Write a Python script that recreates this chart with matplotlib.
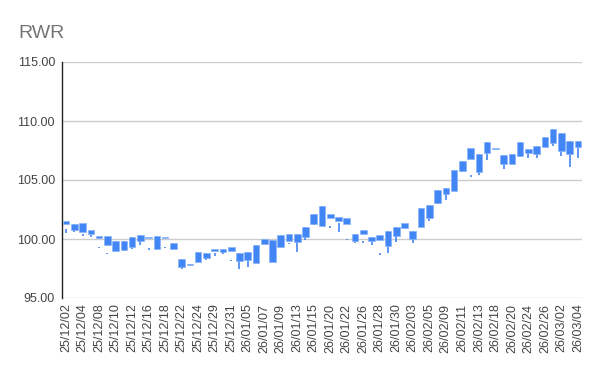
import matplotlib
matplotlib.use("Agg")
import matplotlib.pyplot as plt
import numpy as np

dates = ["25/12/02","25/12/03","25/12/04","25/12/05","25/12/08","25/12/09","25/12/10","25/12/11",
         "25/12/12","25/12/15","25/12/16","25/12/17","25/12/18","25/12/19","25/12/22","25/12/23",
         "25/12/24","25/12/26","25/12/29","25/12/30","25/12/31",
         "26/01/02","26/01/05","26/01/06","26/01/07","26/01/08","26/01/09","26/01/12","26/01/13",
         "26/01/14","26/01/15","26/01/16","26/01/20","26/01/21","26/01/22","26/01/23","26/01/26",
         "26/01/27","26/01/28","26/01/29","26/01/30",
         "26/02/02","26/02/03","26/02/04","26/02/05","26/02/06","26/02/09","26/02/10","26/02/11",
         "26/02/12","26/02/13","26/02/17","26/02/18","26/02/19","26/02/20","26/02/23","26/02/24",
         "26/02/25","26/02/26","26/02/27",
         "26/03/02","26/03/03","26/03/04"]

open_ = [101.55,101.27,101.36,100.79,100.23,100.28,99.83,99.83,100.17,100.31,100.20,100.25,100.20,99.66,
         98.33,97.86,98.87,98.79,99.15,99.15,99.30,98.81,98.87,99.49,99.97,99.89,100.34,100.40,100.40,
         101.02,102.12,102.82,102.09,101.86,101.75,100.40,100.76,100.17,100.31,100.68,100.99,101.33,
         100.71,102.60,102.88,104.15,104.30,105.85,106.64,107.69,107.23,108.19,107.74,107.14,107.23,
         108.22,107.65,107.88,108.67,109.32,108.98,108.33,108.30]
close = [101.30,100.76,100.62,100.45,100.08,99.49,98.98,99.04,99.35,99.83,100.05,99.18,100.05,99.18,
         97.60,97.76,98.03,98.42,99.00,98.87,98.98,98.14,98.19,97.94,99.55,98.03,99.32,99.83,99.72,
         100.14,101.27,101.13,101.75,101.53,101.27,99.83,100.42,99.83,99.92,99.43,100.23,100.96,
         100.00,100.99,101.81,103.05,103.79,104.07,105.76,106.78,105.70,107.29,107.63,106.36,106.36,
         107.06,107.31,107.23,107.80,108.16,107.48,107.20,107.82]
low = [100.50,100.57,100.28,100.20,99.22,98.76,98.98,98.95,99.13,99.49,99.10,99.18,99.24,99.18,
       97.46,97.76,98.03,98.19,98.53,98.70,98.17,97.46,97.65,97.94,98.53,98.03,99.32,99.57,98.93,
       99.89,101.19,101.13,100.90,100.57,99.94,99.63,99.70,99.49,98.62,98.79,99.72,99.97,
       99.63,100.99,101.53,102.94,103.28,104.07,105.70,105.25,105.42,106.72,106.40,105.93,106.36,
       106.95,106.84,106.89,107.80,107.88,107.06,106.08,106.89]
high = [100.85,101.27,100.45,100.31,99.30,98.82,99.83,99.83,100.17,100.31,99.20,100.25,99.30,99.66,
        98.33,97.86,98.87,98.79,98.79,99.15,98.23,98.81,98.87,99.49,98.59,99.89,100.34,99.65,100.40,
        101.02,102.12,102.82,101.10,101.36,100.00,100.40,99.80,100.17,98.79,100.68,100.99,100.02,
        100.71,102.60,102.88,104.15,104.30,105.85,106.64,105.42,107.23,108.19,106.48,107.14,107.23,
        108.22,107.65,107.88,108.67,109.32,108.98,108.33,108.30]

yticks = [95, 100, 105, 110, 115]

blue = "#4285F4"
fig = plt.figure(figsize=(6.0, 3.71), dpi=100)
ax = fig.add_axes([62/600, 1-298/371, 520/600, (298-62)/371])

x = np.arange(len(dates))
o = np.array(open_); c = np.array(close)
ax.vlines(x, low, high, color=blue, linewidth=1.2, zorder=2)
bottoms = np.minimum(o, c)
heights = np.maximum(np.abs(o - c), 0.08)
ax.bar(x, heights, bottom=bottoms, width=0.8, color=blue, edgecolor="#8ab4f8",
       linewidth=0.5, zorder=3)

ax.set_xlim(-0.5, len(dates) - 0.5)
ax.set_ylim(95, 115)
ax.set_yticks(yticks)
ax.set_yticklabels([f"{v:.2f}" for v in yticks])
ax.set_xticks(x[::2])
ax.set_xticklabels(dates[::2], rotation=90)
ax.grid(axis="y", color="#cccccc", linewidth=1.0, zorder=0)
ax.set_axisbelow(True)
for s in ["top", "right", "bottom"]:
    ax.spines[s].set_visible(False)
ax.spines["left"].set_color("#222222")
ax.spines["left"].set_linewidth(1.0)
ax.tick_params(axis="both", length=0, labelsize=9, labelcolor="#444444",
               labelfontfamily="Liberation Sans")
ax.tick_params(axis="y", pad=5)
ax.tick_params(axis="x", pad=4)

fig.text(18/600, 1-38/371, "RWR", fontsize=14, color="#757575",
         family="Liberation Sans", va="baseline", ha="left")

fig.savefig("out.png", dpi=100)
